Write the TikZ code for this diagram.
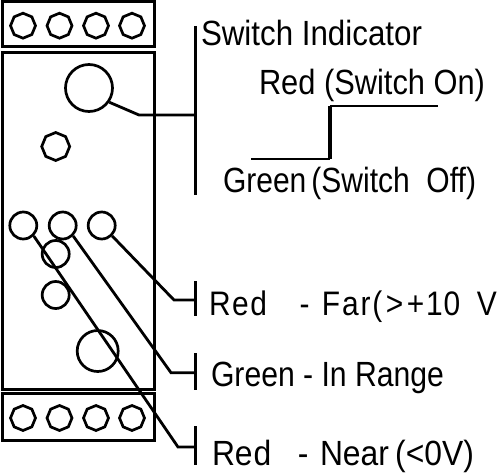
\documentclass[tikz,border=0pt]{standalone}
\usepackage{fontspec}
\setmainfont{Liberation Sans}
\usetikzlibrary{shapes.geometric}
\tikzset{
  x=1pt,y=-1pt,
  boxpart/.style={draw,line width=3pt,fill=none},
  terminal/.style={draw,line width=2.7pt,regular polygon,regular polygon sides=8,shape border rotate=22.5,minimum size=25pt,inner sep=0pt},
  smallpoly/.style={terminal,minimum size=28pt},
  lamp/.style={draw,line width=2.7pt,circle,inner sep=0pt,minimum size=#1},
  wire/.style={line width=2.8pt,line join=miter},
  bar/.style={line width=3pt},
  lbl/.style={anchor=base west,inner sep=0pt,outer sep=0pt},
}
\newcommand{\fitlabel}[2]{\resizebox{#1pt}{\height}{\fontsize{35}{40}\selectfont #2}}
\newcommand{\kn}[1]{\kern#1pt\relax}
\begin{document}
\begin{tikzpicture}
\useasboundingbox (0,0) rectangle (500,473);
\fill[white] (0,0) rectangle (500,473);
% boxes
\node[boxpart,anchor=north west,minimum width=152pt,minimum height=45pt,inner sep=0pt,outer sep=0pt] (topbox) at (2,2) {};
\node[boxpart,anchor=north west,minimum width=152pt,minimum height=337pt,inner sep=0pt,outer sep=0pt] (body) at (2.5,52.5) {};
\node[boxpart,anchor=north west,minimum width=152pt,minimum height=47pt,inner sep=0pt,outer sep=0pt] (botbox) at (2.5,393.5) {};
% terminals
\foreach \n/\x in {a/23,b/59.5,c/96,d/132}{
  \node[terminal] (t\n) at (\x,25.7) {};
  \node[terminal] (u\n) at (\x,418) {};
}
% indicators
\node[lamp=47pt] (big) at (89,88) {};
\node[smallpoly] (sm) at (55.7,146.5) {};
\node[lamp=27pt] (l1) at (23.3,225.5) {};
\node[lamp=27pt] (l2) at (62.7,225.5) {};
\node[lamp=27pt] (l3) at (101.7,225.5) {};
\node[lamp=27pt] (l4) at (55.7,254) {};
\node[lamp=27pt] (l5) at (55.7,295) {};
\node[lamp=41pt] (l6) at (97.7,351) {};
% bars
\coordinate (b0t) at (195.5,26);  \coordinate (b0b) at (195.5,195);
\coordinate (b1t) at (195.5,281); \coordinate (b1b) at (195.5,316);
\coordinate (b2t) at (195.5,353); \coordinate (b2b) at (195.5,390);
\coordinate (b3t) at (195.5,426); \coordinate (b3b) at (195.5,465);
\foreach \i in {0,1,2,3}{\draw[bar] (b\i t) -- (b\i b);}
% connectors
\coordinate (e0) at (139,115); \coordinate (j0) at (195.5,115);
\coordinate (e1) at (174,300); \coordinate (j1) at (195.5,300);
\coordinate (e2) at (171,372.7); \coordinate (j2) at (195.5,372.7);
\coordinate (e3) at (178,447); \coordinate (j3) at (195.5,447);
\draw[wire] (big.-35) -- (e0) -- (j0);
\draw[wire] (l3.-45) -- (e1) -- (j1);
\draw[wire] (l2.-45) -- (e2) -- (j2);
\draw[wire] (l1.-45) -- (e3) -- (j3);
% step
\coordinate (s0) at (251,159); \coordinate (s1) at (330,159);
\coordinate (s2) at (330,106); \coordinate (s3) at (438,106);
\draw[wire] (s0) -- (s1);
\draw[line width=3.2pt] (s1) -- (s2);
\draw[wire] (s2) -- (s3);
% labels
\node[lbl] (tsw) at (201,46) {\fitlabel{221}{Switch Indicator}};
\node[lbl] (ton) at (259,95) {\fitlabel{226}{Red (Switch On)}};
\node[lbl] (tof) at (223,193) {\fitlabel{253}{Green\,(Switch\ \ Off)}};
\node[lbl] (tfa) at (209,315) {\scalebox{0.88}[1]{\fontsize{34}{40}\selectfont R\kn{1.8}e\kn{1.8}d\kn{37}-\kn{14}F\kn{2.2}a\kn{2.2}r\kn{2}(\kn{4}>\kn{4}+\kn{2}1\kn{1}0\kn{19}V}};
\node[lbl] (tin) at (211,386) {\fitlabel{233}{Green - In Range}};
\node[lbl] (tne) at (212,465) {\fitlabel{262}{Re\kn{1}d\ \ \ - \kn{3}Near\kn{1}\,(<0V)}};
\end{tikzpicture}
\end{document}
